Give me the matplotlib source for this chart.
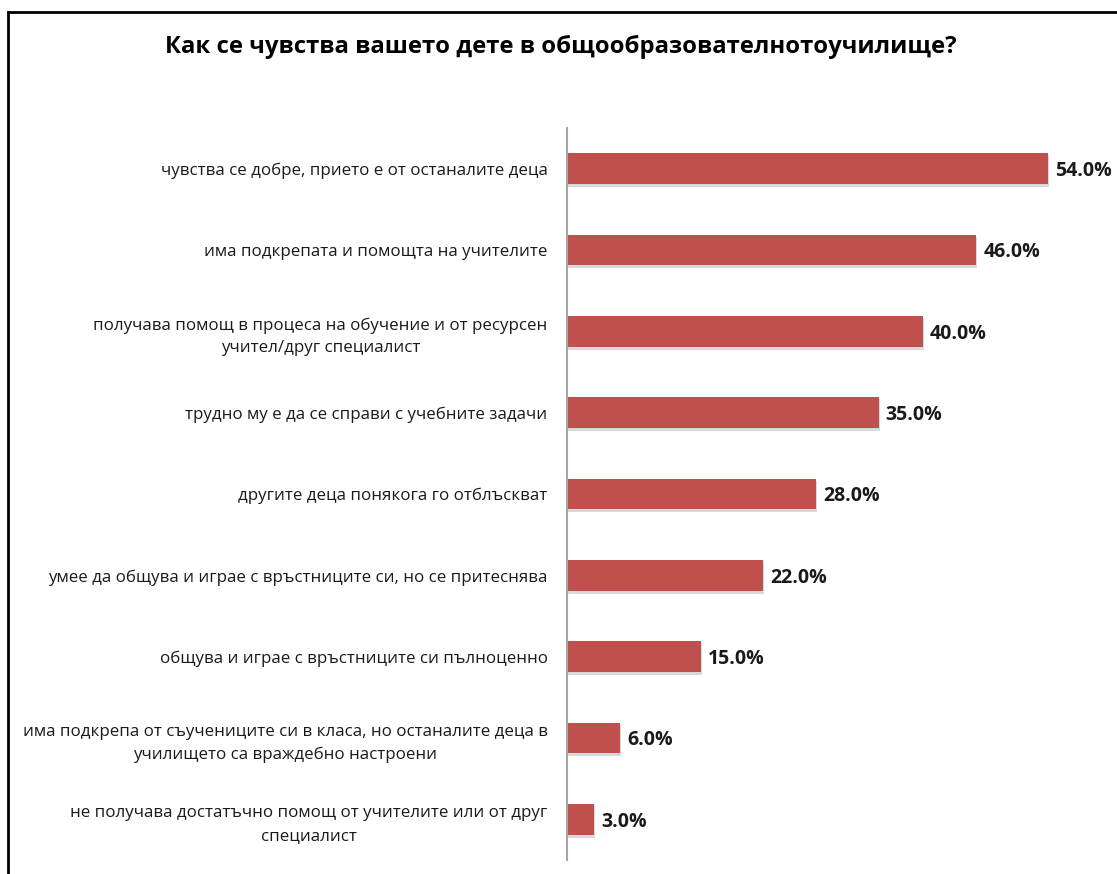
import matplotlib
matplotlib.use('Agg')
import matplotlib.pyplot as plt
from matplotlib.lines import Line2D

plt.rcParams['font.family'] = ['Open Sans', 'DejaVu Sans']

categories = [
    'чувства се добре, прието е от останалите деца',
    'има подкрепата и помощта на учителите',
    'получава помощ в процеса на обучение и от ресурсен\nучител/друг специалист',
    'трудно му е да се справи с учебните задачи',
    'другите деца понякога го отблъскват',
    'умее да общува и играе с връстниците си, но се притеснява',
    'общува и играе с връстниците си пълноценно',
    'има подкрепа от съучениците си в класа, но останалите деца в\nучилището са враждебно настроени',
    'не получава достатъчно помощ от учителите или от друг\nспециалист',
]
values = [54.0, 46.0, 40.0, 35.0, 28.0, 22.0, 15.0, 6.0, 3.0]
title = 'Как се чувства вашето дете в общообразователнотоучилище?'

bar_color = '#C0504D'

fig = plt.figure(figsize=(11.17, 8.74), dpi=100)
ax = fig.add_axes([567 / 1117, 14 / 874, 534 / 1117, 732 / 874])

ypos = list(range(len(categories)))
# soft shadow under the bars
ax.barh([y + 0.03 for y in ypos], [v + 0.12 for v in values], height=0.39,
        color='#d9d9d9', zorder=1)
ax.barh(ypos, values, height=0.38, color=bar_color, zorder=2)

for y, v in zip(ypos, values):
    ax.text(v + 0.8, y + 0.03, f'{v:.1f}%', va='center', ha='left',
            fontsize=14, fontweight='bold', color='#1a1a1a')

ax.set_xlim(0, 60)
ax.set_ylim(len(categories) - 0.5, -0.5)
ax.set_yticks(ypos)
ax.set_yticklabels(categories, fontsize=12.2, color='#1a1a1a', linespacing=1.55)
for lab in ax.get_yticklabels():
    lab.set_multialignment('center')
ax.tick_params(axis='y', length=0, pad=14)
ax.set_xticks([])
for s in ['top', 'right', 'bottom']:
    ax.spines[s].set_visible(False)
ax.spines['left'].set_color('#a6a6a6')
ax.spines['left'].set_linewidth(1.5)

fig.text(0.502, 1 - 47 / 874, title, ha='center', va='center',
         fontsize=17.2, fontweight='bold', color='#000000')

# outer frame (top and left edges visible)
fig.add_artist(Line2D([8 / 1117, 8 / 1117], [0, 1 - 12 / 874], transform=fig.transFigure,
                      color='black', linewidth=2))
fig.add_artist(Line2D([8 / 1117, 1], [1 - 12 / 874, 1 - 12 / 874], transform=fig.transFigure,
                      color='black', linewidth=2))

fig.savefig('out.png', dpi=100)
